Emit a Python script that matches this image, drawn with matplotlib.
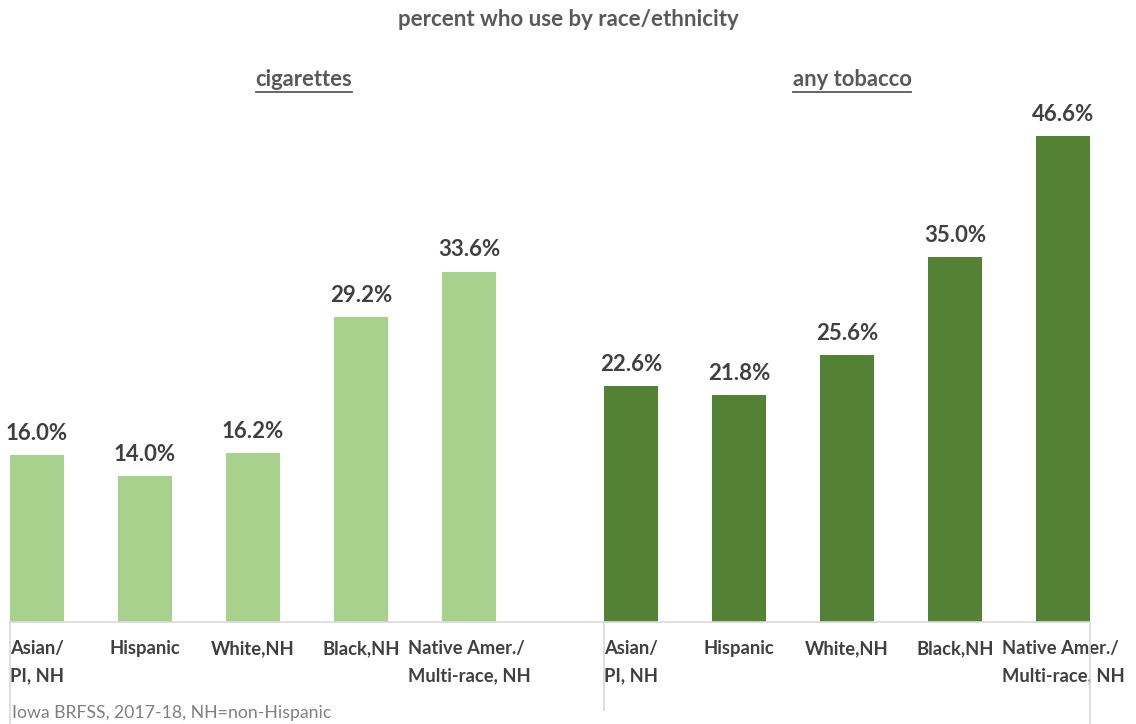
import numpy as np
import matplotlib
matplotlib.use("Agg")
import matplotlib.pyplot as plt
from matplotlib.lines import Line2D

plt.rcParams['font.family'] = ['Lato', 'DejaVu Sans']

# data
groups = ["Asian/\nPI, NH", "Hispanic", "White,NH", "Black,NH", "Native Amer./\nMulti-race, NH"]
cigarettes = [16.0, 14.0, 16.2, 29.2, 33.6]
any_tobacco = [22.6, 21.8, 25.6, 35.0, 46.6]

light_green = "#a9d18e"
dark_green = "#548235"
text_dark = "#404040"
axis_gray = "#d9d9d9"

W, H = 1136, 724
fig = plt.figure(figsize=(W / 100, H / 100), dpi=100)
ax = fig.add_axes([10 / W, 102 / H, 1080 / W, 521.5 / H])

n = len(groups)
bar_w = 0.5
x_cig = np.arange(n, dtype=float)
x_tob = np.arange(n, dtype=float) + n + 0.5

ax.bar(x_cig, cigarettes, width=bar_w, align="edge", color=light_green)
ax.bar(x_tob, any_tobacco, width=bar_w, align="edge", color=dark_green)

for xs, vals in ((x_cig, cigarettes), (x_tob, any_tobacco)):
    for x, v in zip(xs, vals):
        ax.annotate(f"{v:.1f}%", (x + bar_w / 2, v), xytext=(0, 8),
                    textcoords="offset points", ha="center", va="bottom",
                    fontsize=16, fontweight="bold", color=text_dark)

ax.set_xlim(0, 2 * n)
ax.set_ylim(0, 50)
ax.set_yticks([])
centers = np.concatenate([x_cig, x_tob]) + bar_w / 2
ax.set_xticks(centers)
ax.set_xticklabels(groups * 2, fontsize=13.2, fontweight="bold", color=text_dark,
                   linespacing=1.75, multialignment="left", va="top")
ax.tick_params(axis="x", length=0, pad=13)
for s in ("left", "right", "top"):
    ax.spines[s].set_visible(False)
ax.spines["bottom"].set_color(axis_gray)
ax.spines["bottom"].set_linewidth(1.2)

# group separators below the axis
trans = ax.get_xaxis_transform()
for xv, yend in ((0, -0.2), (n + 0.5, -0.169), (2 * n, -0.2)):
    ax.plot([xv, xv], [0, yend], color=axis_gray, lw=1.2, transform=trans, clip_on=False)

fig.text(0.5, 1 - 20 / H, "percent who use by race/ethnicity", ha="center", va="center",
         fontsize=16, fontweight="bold", color="#595959")

headers = []
for label, cx in (("cigarettes", 304), ("any tobacco", 852)):
    headers.append(fig.text(cx / W, 1 - 79 / H, label, ha="center", va="center",
                            fontsize=15.8, fontweight="bold", color="#595959"))

fig.text(12 / W, 1 - 713 / H, "Iowa BRFSS, 2017-18, NH=non-Hispanic", ha="left", va="center",
         fontsize=12.7, color="#808080")

# underline the group headers
fig.canvas.draw()
for t in headers:
    bb = t.get_window_extent().transformed(fig.transFigure.inverted())
    y = 1 - 92 / H
    fig.add_artist(Line2D([bb.x0, bb.x1], [y, y], color="#595959", lw=1.3,
                          transform=fig.transFigure))

fig.savefig("out.png", dpi=100)
